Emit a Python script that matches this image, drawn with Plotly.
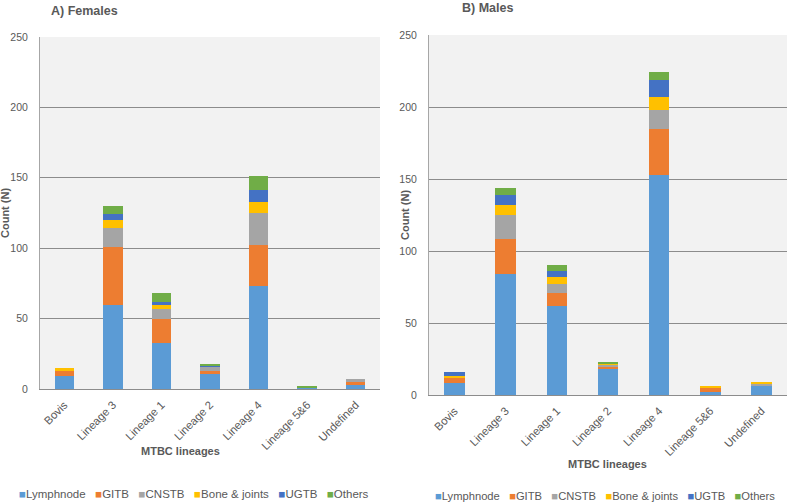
import plotly.graph_objects as go

categories = ["Bovis", "Lineage 3", "Lineage 1", "Lineage 2", "Lineage 4", "Lineage 5&6", "Undefined"]
series_names = ["Lymphnode", "GITB", "CNSTB", "Bone & joints", "UGTB", "Others"]
series_colors = ["#5B9BD5", "#ED7D31", "#A5A5A5", "#FFC000", "#4472C4", "#70AD47"]

# Females
f_lymphnode = [9, 60, 33, 11, 73, 1, 3]
f_gitb      = [4, 41, 17, 2, 29, 0, 2]
f_cnstb     = [0, 13, 7, 3, 23, 0, 2]
f_bone      = [2, 6, 3, 0, 8, 0, 0]
f_ugtb      = [0, 4, 2, 1, 8, 0, 0]
f_others    = [0, 6, 6, 1, 10, 1, 0]

# Males
m_lymphnode = [8, 84, 62, 18, 153, 2, 6]
m_gitb      = [4, 24, 9, 2, 32, 3, 0]
m_cnstb     = [0, 17, 6, 1, 13, 0, 2]
m_bone      = [1, 7, 5, 1, 9, 1, 1]
m_ugtb      = [3, 7, 4, 0, 12, 0, 0]
m_others    = [0, 5, 4, 1, 5, 0, 0]

y_ticks = [0, 50, 100, 150, 200, 250]

females = [f_lymphnode, f_gitb, f_cnstb, f_bone, f_ugtb, f_others]
males = [m_lymphnode, m_gitb, m_cnstb, m_bone, m_ugtb, m_others]

W, H = 788, 503
FONT = "Liberation Sans, Arial, sans-serif"
TXT = "#595959"

fig = go.Figure()
for name, color, vals in zip(series_names, series_colors, females):
    fig.add_trace(go.Bar(x=categories, y=vals, name=name, marker_color=color,
                         marker_line_width=0, xaxis="x", yaxis="y", showlegend=False))
for name, color, vals in zip(series_names, series_colors, males):
    fig.add_trace(go.Bar(x=categories, y=vals, name=name, marker_color=color,
                         marker_line_width=0, xaxis="x2", yaxis="y2", showlegend=False))

def px_x(p):
    return p / W

def px_y(p):
    return 1 - p / H

common_x = dict(tickangle=-45, showgrid=False, showline=True, linecolor="#8c8c8c", linewidth=1,
                ticks="", tickfont=dict(size=11.3, color=TXT, family=FONT), automargin=False,
                ticklabelstandoff=4)
common_y = dict(range=[0, 250], tickvals=y_ticks, showgrid=True, gridcolor="#8c8c8c", gridwidth=1,
                showline=True, linecolor="#a6a6a6", linewidth=1, zeroline=False, ticks="",
                tickfont=dict(size=10.5, color=TXT, family=FONT), automargin=False,
                ticklabelstandoff=9)

fig.update_layout(
    width=W, height=H,
    margin=dict(l=0, r=0, t=0, b=0),
    paper_bgcolor="white",
    plot_bgcolor="#f2f2f2",
    barmode="stack",
    bargap=0.6,
    showlegend=False,
    font=dict(family=FONT, color=TXT),
    xaxis=dict(domain=[px_x(40), px_x(380)], anchor="y", **common_x),
    yaxis=dict(domain=[px_y(389), px_y(37)], anchor="x", **common_y),
    xaxis2=dict(domain=[px_x(429), px_x(787)], anchor="y2", **common_x),
    yaxis2=dict(domain=[px_y(395), px_y(35)], anchor="x2", **common_y),
)

annotations = [
    dict(text="<b>A) Females</b>", x=px_x(49), y=px_y(11), xanchor="left", yanchor="middle",
         font=dict(size=12.5, color=TXT)),
    dict(text="<b>B) Males</b>", x=px_x(460), y=px_y(8), xanchor="left", yanchor="middle",
         font=dict(size=12.5, color=TXT)),
    dict(text="<b>Count (N)</b>", x=px_x(5), y=px_y(213), textangle=-90, xanchor="center",
         yanchor="middle", font=dict(size=11, color=TXT)),
    dict(text="<b>Count (N)</b>", x=px_x(405), y=px_y(215), textangle=-90, xanchor="center",
         yanchor="middle", font=dict(size=11, color=TXT)),
    dict(text="<b>MTBC lineages</b>", x=px_x(180), y=px_y(451), xanchor="center", yanchor="middle",
         font=dict(size=11, color=TXT)),
    dict(text="<b>MTBC lineages</b>", x=px_x(607), y=px_y(464), xanchor="center", yanchor="middle",
         font=dict(size=11, color=TXT)),
]

legend_text = "   ".join(
    f"<span style='color:{c}'>■</span>{n}" for n, c in zip(series_names, series_colors)
)
annotations.append(dict(text=legend_text, x=px_x(194), y=px_y(494), xanchor="center", yanchor="middle",
                        font=dict(size=11.5, color=TXT)))
annotations.append(dict(text=legend_text, x=px_x(605), y=px_y(496), xanchor="center", yanchor="middle",
                        font=dict(size=11.2, color=TXT)))

for a in annotations:
    a.update(xref="paper", yref="paper", showarrow=False)
fig.update_layout(annotations=annotations)

fig.write_html("out.html", config={"displayModeBar": False},
               post_script="document.body.style.margin='0';")
